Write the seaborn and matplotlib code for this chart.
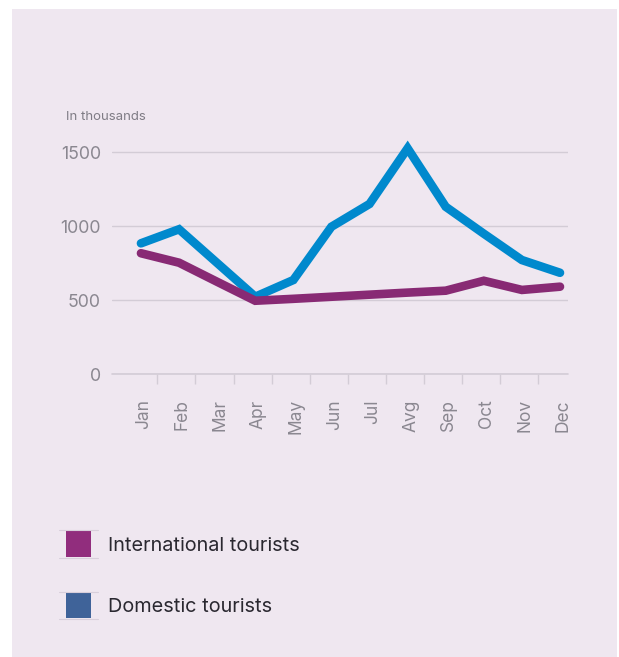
import numpy as np
import pandas as pd
import matplotlib
matplotlib.use("Agg")
import matplotlib.pyplot as plt
from matplotlib.patches import Rectangle
from matplotlib.lines import Line2D
from matplotlib.transforms import ScaledTranslation
import seaborn as sns

months = ["Jan", "Feb", "Mar", "Apr", "May", "Jun", "Jul", "Avg", "Sep", "Oct", "Nov", "Dec"]
domestic = [885, 980, 752, 524, 637, 997, 1151, 1527, 1132, 950, 772, 686]
international = [818, 754, 625, 497, 510, 524, 538, 552, 565, 632, 570, 592]
series_names = ["Domestic tourists", "International tourists"]
y_ticks = [0, 500, 1000, 1500]

sns.set_theme(style="white")
plt.rcParams["font.family"] = ["Inter", "DejaVu Sans"]

W, H = 619, 657
fig = plt.figure(figsize=(W / 100, H / 100), dpi=100)
fig.patch.set_facecolor("white")

bg = "#EFE7F0"
fig.add_artist(Rectangle((12 / W, 0), (617 - 12) / W, 1 - 9 / H,
                         transform=fig.transFigure, facecolor=bg, edgecolor="none", zorder=0))

ax = fig.add_axes([112 / W, 1 - 374.3 / H, (568 - 112) / W, 1650 * 0.148 / H])
ax.set_facecolor("none")

df = pd.DataFrame({
    "idx": list(range(len(months))) * 2,
    "value": domestic + international,
    "series": [series_names[0]] * len(months) + [series_names[1]] * len(months),
})
line_colors = {"Domestic tourists": "#0089CD", "International tourists": "#882A74"}
sns.lineplot(data=df, x="idx", y="value", hue="series", palette=line_colors,
             linewidth=6.2, ax=ax, legend=False, clip_on=False, zorder=3,
             solid_capstyle="round", solid_joinstyle="miter")

ax.set_xlim(-0.76, 11.21)
ax.set_ylim(0, 1650)
ax.set_yticks(y_ticks)
ax.set_yticklabels([str(v) for v in y_ticks])
ax.grid(axis="y", color="#D3CCD6", linewidth=1)
ax.grid(axis="x", visible=False)
ax.axhline(0, color="#D3CCD6", linewidth=1.2, clip_on=False, zorder=1)
for s in ax.spines.values():
    s.set_visible(False)
ax.set_xlabel("")
ax.set_ylabel("")

ax.set_xticks(range(len(months)))
ax.set_xticklabels(months, rotation=90, ha="center", va="top")
ax.set_xticks([i + 0.43 for i in range(len(months) - 1)], minor=True)
ax.tick_params(axis="x", which="major", length=0, pad=18, labelsize=12.5, labelcolor="#8A8790")
ax.tick_params(axis="x", which="minor", length=7, width=1, color="#D3CCD6", bottom=True)
ax.tick_params(axis="y", length=0, pad=8, labelsize=12.8, labelcolor="#8A8790")
shift = ScaledTranslation(3 / 100, 0, fig.dpi_scale_trans)
for lbl in ax.get_xticklabels():
    lbl.set_transform(lbl.get_transform() + shift)

fig.text(66 / W, 1 - 117 / H, "In thousands", fontsize=9.5, color="#7F7C85", va="center", ha="left")

# legend
leg_items = [("International tourists", "#912D7D", 530, 557), ("Domestic tourists", "#3F6399", 592, 618)]
for label, col, y0, y1 in leg_items:
    fig.add_artist(Rectangle((66 / W, 1 - y1 / H), 25 / W, (y1 - y0) / H,
                             transform=fig.transFigure, facecolor=col, edgecolor="none"))
    for yy in (y0 - 0.5, y1 + 0.5):
        fig.add_artist(Line2D([59 / W, 98 / W], [1 - yy / H, 1 - yy / H],
                              transform=fig.transFigure, color="#D8CFDB", linewidth=0.8))
    fig.text(108 / W, 1 - ((y0 + y1) / 2 + 2.5) / H, label, fontsize=14.3, color="#2A2830",
             va="center", ha="left")

fig.savefig("out.png", dpi=100, facecolor="white")
